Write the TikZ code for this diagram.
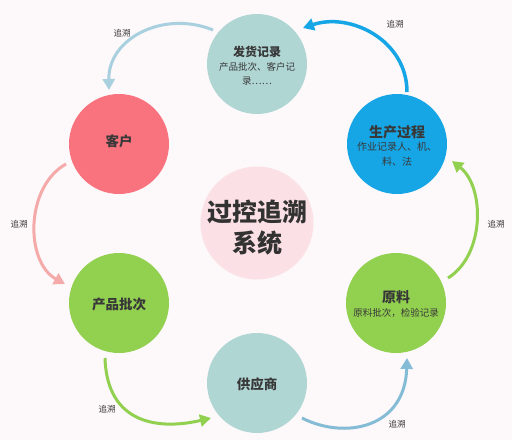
\documentclass[tikz,border=0pt]{standalone}
\usepackage{fontspec}
\newfontfamily\cjk{Noto Sans CJK SC}
\usetikzlibrary{arrows.meta}
\definecolor{bgc}{HTML}{FDF8FA}
\definecolor{teal}{HTML}{B0D6D4}
\definecolor{blu}{HTML}{16A6E6}
\definecolor{rosec}{HTML}{F8737E}
\definecolor{ctrc}{HTML}{FBE0E5}
\definecolor{grn}{HTML}{92D050}
\definecolor{lblue}{HTML}{A8D0DF}
\definecolor{lpink}{HTML}{F5AAAA}
\definecolor{sblue}{HTML}{84BCD6}
\definecolor{txt}{HTML}{383838}
\begin{document}
\begin{tikzpicture}[x=1pt,y=-1pt,
  ball/.style={circle,draw=none,minimum size=100pt,inner sep=0pt},
  ttl/.style={font=\cjk\bfseries\fontsize{13.5}{16}\selectfont,text=txt,inner sep=0pt},
  sub/.style={font=\cjk\fontsize{9.5}{12}\selectfont,text=txt,inner sep=0pt},
  lbl/.style={font=\cjk\fontsize{8.5}{10}\selectfont,text=txt,inner sep=0pt},
  arr/.style={line width=3pt,-{Triangle[width=12pt,length=11pt]}}]
\fill[bgc] (0,0) rectangle (512,440);
\useasboundingbox (0,0) rectangle (512,440);
% circles
\node[ball,fill=teal] (fh) at (257,64) {};
\node[ball,fill=blu] (sc) at (397,144) {};
\node[ball,fill=rosec] (kh) at (119,144) {};
\node[ball,fill=ctrc,minimum size=113pt] (ct) at (257,223) {};
\node[ball,fill=grn] (cp) at (119,303) {};
\node[ball,fill=grn] (yl) at (396,303) {};
\node[ball,fill=teal] (gy) at (257,383) {};
% texts
\node[ttl,font=\cjk\bfseries\fontsize{12}{14}\selectfont] (fhT) at (257,52) {发货记录};
\node[sub] (fhS1) at (257,67) {产品批次、客户记};
\node[sub] (fhS2) at (257,81) {录……};
\node[ttl,font=\cjk\bfseries\fontsize{14}{16}\selectfont] (scT) at (397,132) {生产过程};
\node[sub,font=\cjk\fontsize{10}{12}\selectfont] (scS1) at (397,147) {作业记录人、机、};
\node[sub,font=\cjk\fontsize{10}{12}\selectfont] (scS2) at (397,162) {料、法};
\node[ttl] (khT) at (119,141) {客户};
\node[font=\cjk\bfseries\fontsize{25}{30}\selectfont,text=txt!90!black,inner sep=0pt] (ctT1) at (257,212) {过控追溯};
\node[font=\cjk\bfseries\fontsize{25}{30}\selectfont,text=txt!90!black,inner sep=0pt] (ctT2) at (257,243) {系统};
\node[ttl] (cpT) at (119,304) {产品批次};
\node[ttl,font=\cjk\bfseries\fontsize{14}{16}\selectfont] (ylT) at (396,297) {原料};
\node[sub] (ylS) at (396,313) {原料批次，检验记录};
\node[ttl] (gyT) at (257,384) {供应商};
% arrows
\coordinate (a1s) at (407,92); \coordinate (a1e) at (303,28);
\draw[arr,blu,line width=3.5pt] (a1s) .. controls (407,40) and (350,12) .. (a1e);
\coordinate (a2s) at (213,30); \coordinate (a2e) at (109,90);
\draw[arr,lblue] (a2s) .. controls (164,10) and (108,38) .. (a2e);
\coordinate (a3s) at (66,164); \coordinate (a3e) at (65,284);
\draw[arr,lpink] (a3s) .. controls (25,187) and (25,262) .. (a3e);
\coordinate (a4s) at (105,358); \coordinate (a4e) at (211,418);
\draw[arr,grn] (a4s) .. controls (107,425) and (160,430) .. (a4e);
\coordinate (a5s) at (302,418); \coordinate (a5e) at (407,358);
\draw[arr,sblue] (a5s) .. controls (345,440) and (405,428) .. (a5e);
\coordinate (a6s) at (448,278); \coordinate (a6e) at (452,161);
\draw[arr,grn] (a6s) .. controls (485,255) and (485,187) .. (a6e);
% labels
\node[lbl] (l1) at (395,24) {追溯};
\node[lbl] (l2) at (122,33) {追溯};
\node[lbl] (l3) at (19,224) {追溯};
\node[lbl] (l4) at (107,409) {追溯};
\node[lbl] (l5) at (397,424) {追溯};
\node[lbl] (l6) at (496,224) {追溯};
\end{tikzpicture}
\end{document}
